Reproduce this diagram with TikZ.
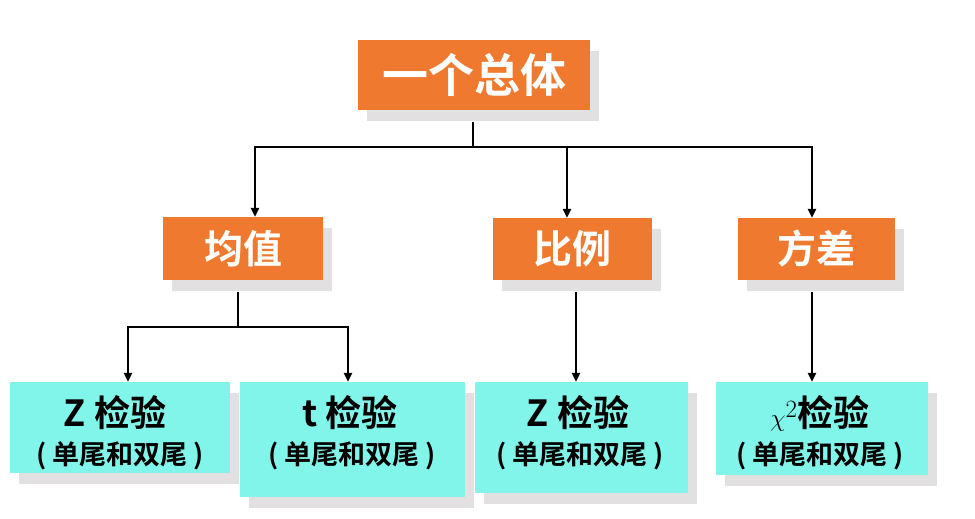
\documentclass[tikz,border=0pt]{standalone}
\usepackage{fontspec}
\setmainfont{Noto Sans CJK SC Bold}
\newfontfamily\cjkb{Noto Sans CJK SC Bold}
\usetikzlibrary{shadows,arrows.meta}
\definecolor{orng}{HTML}{EF7A2F}
\definecolor{cyn}{HTML}{82F5EB}
\definecolor{shd}{HTML}{E2E0E0}
\tikzset{
  shad/.style={drop shadow={opacity=1,fill=shd,shadow xshift=9pt,shadow yshift=-11pt}},
  obox/.style={fill=orng,shad,inner sep=0pt,text=white,font=\cjkb\fontsize{39}{42}\selectfont},
  cbox/.style={fill=cyn,shad,inner sep=0pt},
  lbl1/.style={font=\cjkb\fontsize{36}{38}\selectfont,inner sep=0pt},
  lbl2/.style={font=\cjkb\fontsize{27}{30}\selectfont,inner sep=0pt},
  conn/.style={line width=2.3pt,black},
  arr/.style={conn,-{Triangle[length=9pt,width=8pt]}}
}
\begin{document}
\begin{tikzpicture}[x=1pt,y=-1pt]
\useasboundingbox[fill=white] (0,0) rectangle (975,519);
% top
\node[obox,minimum width=232pt,minimum height=70pt,font=\cjkb\fontsize{46}{48}\selectfont] (top) at (474,75) {一个总体};
% middle
\node[obox,minimum width=160pt,minimum height=63pt] (mean) at (243,248.5) {均值};
\node[obox,minimum width=159pt,minimum height=62pt] (prop) at (572.5,249) {比例};
\node[obox,minimum width=157pt,minimum height=62pt] (var) at (816.5,249) {方差};
% bottom boxes
\node[cbox,minimum width=220pt,minimum height=91pt] (z1) at (120,427.5) {};
\node[cbox,minimum width=225pt,minimum height=115pt] (t1) at (352.5,439.5) {};
\node[cbox,minimum width=213pt,minimum height=111pt] (z2) at (581.5,437.5) {};
\node[cbox,minimum width=212pt,minimum height=93pt] (chi) at (822,428.5) {};
% labels
\node[lbl1] (z1a) at (115,413) {Z 检验};
\node[lbl2] (z1b) at (120,456) {( 单尾和双尾 )};
\node[lbl1] (t1a) at (350,413) {t 检验};
\node[lbl2] (t1b) at (352,456) {( 单尾和双尾 )};
\node[lbl1] (z2a) at (578,413) {Z 检验};
\node[lbl2] (z2b) at (580,456) {( 单尾和双尾 )};
\node[lbl1] (chia) at (820,413) {$\chi^{2}$检验};
\node[lbl2] (chib) at (820,456) {( 单尾和双尾 )};
% connectors
\coordinate (bus) at (473,147);
\draw[conn] ([xshift=-1pt,yshift=-12pt]top.south) -- (bus);
\draw[arr] (bus) -| ([xshift=12pt]mean.north);
\draw[arr] (bus) -| ([xshift=-5.5pt]prop.north);
\draw[arr] (bus) -| ([xshift=-4.5pt]var.north);
\coordinate (mb) at (238,327);
\draw[conn] ([xshift=-5pt,yshift=-12pt]mean.south) -- (mb);
\draw[arr] (mb) -| ([xshift=8pt]z1.north);
\draw[arr] (mb) -| ([xshift=-4.5pt]t1.north);
\draw[arr] ([xshift=3.5pt,yshift=-12pt]prop.south) -- ([xshift=3.5pt]prop.south |- z2.north);
\draw[arr] ([xshift=-4.5pt,yshift=-12pt]var.south) -- ([xshift=-4.5pt]var.south |- chi.north);
\end{tikzpicture}
\end{document}
